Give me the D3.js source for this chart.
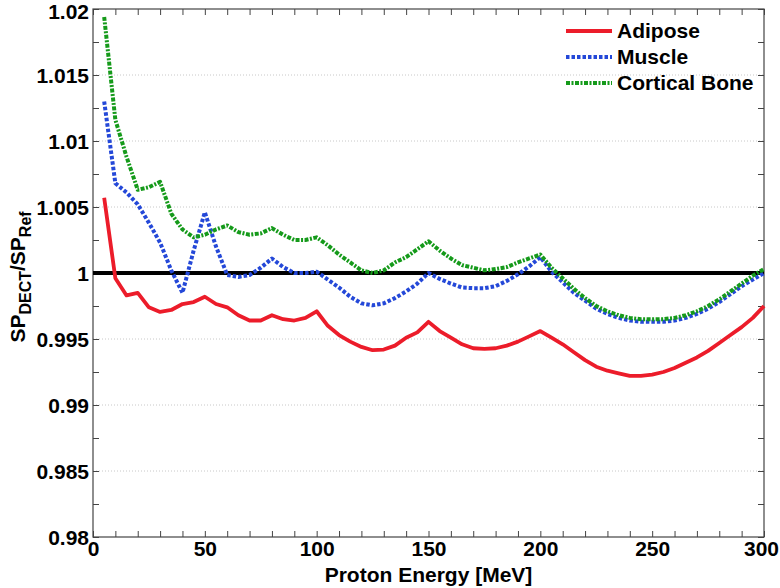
<!DOCTYPE html>
<html><head><meta charset="utf-8">
<script src="https://cdn.jsdelivr.net/npm/d3@7"></script>
<style>
body{margin:0;background:#fff;}
text{font-family:"Liberation Sans",Arial,sans-serif;font-weight:bold;}
</style></head>
<body><svg id="c" width="780" height="588"></svg>
<script>
const energy = [5,10,15,20,25,30,35,40,45,50,55,60,65,70,75,80,85,90,95,100,
105,110,115,120,125,130,135,140,145,150,155,160,165,170,175,180,185,190,195,200,
205,210,215,220,225,230,235,240,245,250,255,260,265,270,275,280,285,290,295,300];

const adipose = [1.0057,0.9996,0.9983,0.9985,0.9974,0.99705,0.9972,0.99765,0.9978,0.9982,0.99765,0.9974,0.9968,0.9964,0.9964,0.9968,0.9965,0.9964,0.9966,0.9971,
0.9960,0.9953,0.9948,0.9944,0.99415,0.9942,0.9945,0.9951,0.9955,0.9963,
0.9956,0.9951,0.9946,0.9943,0.99425,0.9943,0.9945,0.9948,0.9952,0.9956,
0.9951,0.9946,0.9940,0.9934,0.9929,0.9926,0.9924,0.9922,0.9922,0.9923,0.9925,0.9928,0.9932,0.9936,0.9941,0.9947,0.9953,0.9959,0.9966,0.9975];

const muscle = [1.0130,1.0068,1.0061,1.0052,1.0038,1.0023,1.0002,0.9985,1.0017,1.0046,1.0020,0.99985,0.9997,0.99985,1.0004,1.0011,1.00045,1.0000,1.0000,1.0001,
0.9995,0.9989,0.9982,0.9977,0.99755,0.9977,0.9981,0.9986,0.9992,1.0000,
0.99955,0.9992,0.9989,0.99885,0.99885,0.9990,0.9994,0.9999,1.0005,1.0012,
1.0001,0.9993,0.9985,0.9979,0.9973,0.9969,0.9966,0.9964,0.9963,0.9963,0.9963,0.9964,0.9966,0.9969,0.9973,0.9978,0.9984,0.9990,0.9995,1.0000];

const corticalBone = [1.0194,1.0116,1.0088,1.0063,1.0065,1.0069,1.0045,1.0033,1.0027,1.0029,1.0033,1.0036,1.0031,1.0029,1.0030,1.0034,1.0029,1.0025,1.0025,1.0027,
1.0021,1.0014,1.0008,1.0002,1.0000,1.0002,1.0008,1.0012,1.0018,1.0024,
1.0017,1.0011,1.0006,1.0004,1.0002,1.0003,1.00045,1.0008,1.0011,1.0014,
1.0004,0.9996,0.9988,0.9981,0.9975,0.9971,0.9968,0.9966,0.9965,0.9965,0.9965,0.9966,0.9968,0.9971,0.9975,0.9980,0.9986,0.9992,0.9998,1.0003];

const seriesNames = ["Adipose","Muscle","Cortical Bone"];
const yTickValues = [0.98,0.985,0.99,0.995,1,1.005,1.01,1.015,1.02];
const yTickLabels = ["0.98","0.985","0.99","0.995","1","1.005","1.01","1.015","1.02"];
const xTickValues = [0,50,100,150,200,250,300];
const xTickLabels = ["0","50","100","150","200","250","300"];
const refLine = [[0,1],[300,1]];

const svg = d3.select("#c");
const L=93, R=764, T=9, B=537;
const x = d3.scaleLinear().domain([0,300]).range([L,R]);
const y = d3.scaleLinear().domain([0.98,1.02]).range([B,T]);

// grid
const gridVals = yTickValues.filter(v=>v>0.98 && v<1.02 && v!==1);
svg.append("g").selectAll("line").data(gridVals).join("line")
  .attr("x1",L).attr("x2",R).attr("y1",d=>y(d)).attr("y2",d=>y(d))
  .attr("stroke","#c8c8c8").attr("stroke-width",1).attr("stroke-dasharray","1,2");

// axes with inward ticks
const axCol="#444";
const minorY = d3.range(0.98,1.02001,0.0025);
const minorX = d3.range(0,300.1,10);
function styleAxis(g){ g.select(".domain").remove(); g.selectAll("line").attr("stroke",axCol); }
svg.append("g").attr("transform",`translate(${L},0)`)
  .call(d3.axisRight(y).tickValues(minorY).tickSize(6).tickFormat(""))
  .call(styleAxis);
svg.append("g").attr("transform",`translate(${R},0)`)
  .call(d3.axisLeft(y).tickValues(minorY).tickSize(6).tickFormat(""))
  .call(styleAxis);
svg.append("g").attr("transform",`translate(0,${B})`)
  .call(d3.axisTop(x).tickValues(minorX).tickSize(6).tickFormat(""))
  .call(styleAxis);
svg.append("g").attr("transform",`translate(0,${T})`)
  .call(d3.axisBottom(x).tickValues(minorX).tickSize(6).tickFormat(""))
  .call(styleAxis);
svg.append("rect").attr("x",L).attr("y",T).attr("width",R-L).attr("height",B-T)
  .attr("fill","none").attr("stroke",axCol).attr("stroke-width",1.2);

// tick labels
const yl = svg.append("g").attr("transform",`translate(${L-4},0)`)
  .call(d3.axisLeft(y).tickValues(yTickValues).tickSize(0).tickPadding(0)
    .tickFormat((d,i)=>yTickLabels[i]));
yl.select(".domain").remove();
yl.selectAll("text").attr("font-size",21).attr("fill","#000")
  .attr("font-family","Liberation Sans, Arial, sans-serif").attr("font-weight","bold")
  .attr("dy",(d,i)=> i===yTickValues.length-1 ? "0.45em" : "0.36em");
const xl = svg.append("g").attr("transform",`translate(0,${B+4})`)
  .call(d3.axisBottom(x).tickValues(xTickValues).tickSize(0).tickPadding(0)
    .tickFormat((d,i)=>xTickLabels[i]));
xl.select(".domain").remove();
xl.selectAll("text").attr("font-size",21).attr("fill","#000")
  .attr("font-family","Liberation Sans, Arial, sans-serif").attr("font-weight","bold").attr("dy","0.72em")
  .attr("dx",(d,i)=> i===xTickValues.length-1 ? -3 : 0);

// axis titles
svg.append("text").attr("x",(L+R)/2).attr("y",582).attr("text-anchor","middle")
  .attr("font-size",21).text("Proton Energy [MeV]");
const yt = svg.append("text").attr("transform",`translate(25,277) rotate(-90)`)
  .attr("text-anchor","middle").attr("font-size",21);
yt.append("tspan").text("SP");
yt.append("tspan").attr("font-size",16).attr("dy",6).text("DECT");
yt.append("tspan").attr("dy",-6).text("/SP");
yt.append("tspan").attr("font-size",16).attr("dy",6).text("Ref");

// lines
const line = d3.line().x(d=>x(d[0])).y(d=>y(d[1]));
svg.append("path").datum(refLine).attr("d",line).attr("stroke","#000")
  .attr("stroke-width",4).attr("fill","none");

const styles = [
  {color:"#ec1c2a", dash:null, w:3.8},
  {color:"#2448d8", dash:"3.5,2", w:4},
  {color:"#159a1a", dash:"4,1.5,2,1.5", w:4}
];
const dataSets = [adipose, muscle, corticalBone];
[0,1,2].forEach(i=>{
  const pts = energy.map((e,k)=>[e,dataSets[i][k]]);
  const p = svg.append("path").datum(pts).attr("d",line)
    .attr("fill","none").attr("stroke",styles[i].color).attr("stroke-width",styles[i].w)
    .attr("stroke-linejoin","round");
  if(styles[i].dash) p.attr("stroke-dasharray",styles[i].dash);
});

// legend
const lg = svg.append("g");
seriesNames.forEach((n,i)=>{
  const yy = 31 + i*26;
  const l = lg.append("line").attr("x1",566).attr("x2",612).attr("y1",yy).attr("y2",yy)
    .attr("stroke",styles[i].color).attr("stroke-width",styles[i].w);
  if(styles[i].dash) l.attr("stroke-dasharray",styles[i].dash);
  lg.append("text").attr("x",617).attr("y",yy+7).attr("font-size",21).text(n);
});
</script></body></html>
